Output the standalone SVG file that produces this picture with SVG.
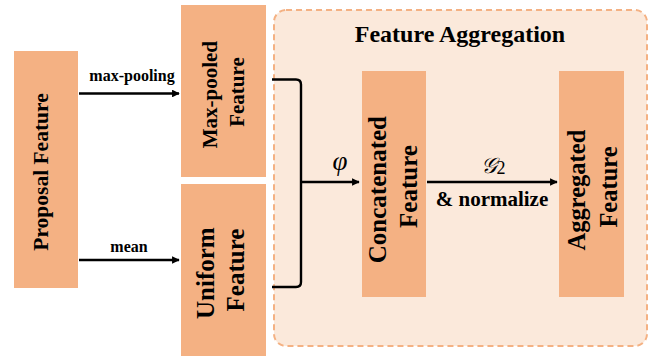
<svg xmlns="http://www.w3.org/2000/svg" width="649" height="357" viewBox="0 0 649 357">
  <style>
    .node { fill: #F4B183; }
    .lbl { font-family: 'Liberation Serif', 'DejaVu Serif', serif; font-weight: 700; fill: #000; text-anchor: middle; }
    .edge { fill: none; stroke: #000; stroke-width: 2.4; }
    .math { font-family: 'Liberation Serif', 'DejaVu Serif', serif; font-style: italic; fill: #000; text-anchor: middle; }
  </style>
  <defs>
    <marker id="arrow" viewBox="0 0 10 10" refX="9" refY="5" markerWidth="3.8" markerHeight="3.2" orient="auto" markerUnits="strokeWidth">
      <path d="M0,0 L10,5 L0,10 Z" fill="#000"/>
    </marker>
  </defs>

  <rect width="649" height="357" fill="#fff"/>

  <!-- aggregation stage container -->
  <g id="feature-aggregation">
    <rect x="274" y="10" width="373" height="336" rx="12" fill="#FBE9DB" stroke="#F4B183" stroke-width="2" stroke-dasharray="6 4"/>
    <text class="lbl" x="460" y="42" font-size="24">Feature Aggregation</text>
  </g>

  <g id="proposal-feature">
    <rect class="node" x="14" y="51" width="64" height="237"/>
    <text class="lbl" font-size="21.5" x="48" y="172" transform="rotate(-90 48 172)">Proposal Feature</text>
  </g>

  <g id="max-pooled-feature">
    <rect class="node" x="181" y="5" width="85" height="172"/>
    <text class="lbl" font-size="21" transform="rotate(-90 0 0)">
      <tspan x="-92" y="217">Max-pooled</tspan>
      <tspan x="-92" y="244">Feature</tspan>
    </text>
  </g>

  <g id="uniform-feature">
    <rect class="node" x="181" y="184" width="85" height="172"/>
    <text class="lbl" font-size="25" transform="rotate(-90 0 0)">
      <tspan x="-270" y="214">Uniform</tspan>
      <tspan x="-270" y="244">Feature</tspan>
    </text>
  </g>

  <g id="concatenated-feature">
    <rect class="node" x="362" y="71" width="64" height="226"/>
    <text class="lbl" font-size="25" transform="rotate(-90 0 0)">
      <tspan x="-186.5" y="386">Concatenated</tspan>
      <tspan x="-186.5" y="417">Feature</tspan>
    </text>
  </g>

  <g id="aggregated-feature">
    <rect class="node" x="559" y="71" width="65" height="226"/>
    <text class="lbl" font-size="24.5" transform="rotate(-90 0 0)">
      <tspan x="-187" y="585">Aggregated</tspan>
      <tspan x="-187" y="617">Feature</tspan>
    </text>
  </g>

  <g id="connectors">
    <path class="edge" d="M79,93.5 H179" marker-end="url(#arrow)"/>
    <text class="lbl" font-size="16" x="132" y="81">max-pooling</text>

    <path class="edge" d="M79,260 H179" marker-end="url(#arrow)"/>
    <text class="lbl" font-size="16" x="129" y="252">mean</text>

    <path class="edge" d="M272,79.5 H296 Q301,79.5 301,84.5 V282 Q301,287 296,287 H272"/>
    <path class="edge" d="M301,182 H359" marker-end="url(#arrow)"/>
    <text class="math" font-size="27" x="340" y="170">φ</text>

    <path class="edge" d="M427,182 H557" marker-end="url(#arrow)"/>
    <text class="math" font-size="22" x="493" y="173">𝒢<tspan font-style="normal" font-size="18" dy="1">2</tspan></text>
    <text class="lbl" font-size="21" x="492" y="206">&amp; normalize</text>
  </g>
</svg>
